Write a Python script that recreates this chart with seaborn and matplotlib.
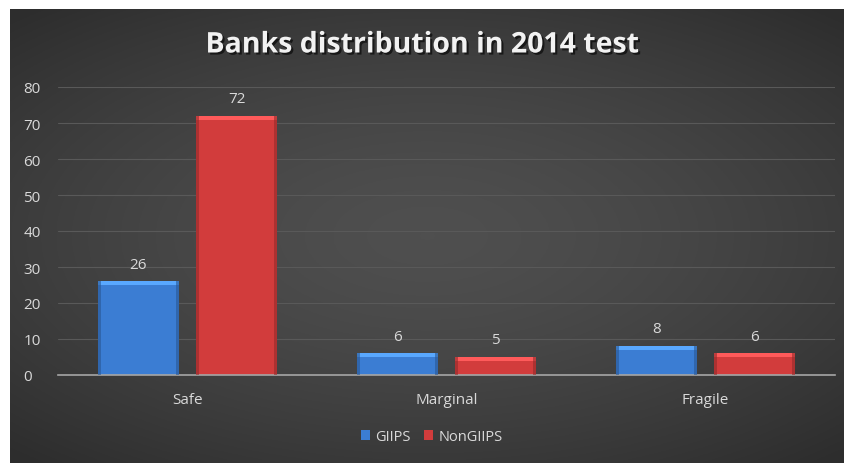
import numpy as np
import pandas as pd
import matplotlib
matplotlib.use("Agg")
import matplotlib.pyplot as plt
import matplotlib.patheffects as pe
import seaborn as sns

categories = ["Safe", "Marginal", "Fragile"]
giips = [26, 6, 8]
nongiips = [72, 5, 6]
series_names = ["GIIPS", "NonGIIPS"]
title = "Banks distribution in 2014 test"

df = pd.DataFrame({
    "Category": categories * 2,
    "Value": giips + nongiips,
    "Series": [series_names[0]] * 3 + [series_names[1]] * 3,
})

sns.set_theme(style="dark")
plt.rcParams['font.family'] = ['Open Sans', 'DejaVu Sans']

W, H = 845, 464
fig = plt.figure(figsize=(W / 100, H / 100), dpi=100, facecolor="white")

# background panel with radial gradient
bg = fig.add_axes([10 / W, 0, 1 - 10 / W, 1 - 10 / H])
yy, xx = np.mgrid[-1:1:300j, -1:1:500j]
r = np.sqrt((xx * 0.9) ** 2 + (yy * 1.0) ** 2)
vals = 0.31 - 0.13 * np.clip(r / 1.3, 0, 1) ** 1.5
rgb = np.dstack([vals, vals, vals])
bg.imshow(rgb, aspect="auto", extent=[0, 1, 0, 1])
bg.set_axis_off()

ax = fig.add_axes([58 / W, 88 / H, (835 - 58) / W, (376 - 88) / H])
ax.patch.set_alpha(0)
palette = {"GIIPS": "#3b7dd3", "NonGIIPS": "#d23c3c"}
sns.barplot(data=df, x="Category", y="Value", hue="Series", palette=palette,
            width=0.757, gap=0.18, saturation=1, ax=ax, legend=True,
            edgecolor="none")

ax.set_ylim(0, 80)
ax.set_xlim(-0.5, 2.5)
ax.set_yticks(range(0, 81, 10))
ax.grid(axis="y", color="#595959", linewidth=0.8)
ax.grid(axis="x", visible=False)
ax.set_axisbelow(True)
for s in ["top", "right", "left"]:
    ax.spines[s].set_visible(False)
ax.spines["bottom"].set_color("#a6a6a6")
ax.spines["bottom"].set_linewidth(1.2)
ax.set_xlabel("")
ax.set_ylabel("")
ax.tick_params(axis="y", colors="#d9d9d9", labelsize=11, length=0, pad=25)
ax.tick_params(axis="x", colors="#d9d9d9", labelsize=11, length=0, pad=12)
for lab in ax.get_yticklabels():
    lab.set_horizontalalignment("left")

# bevel highlights and labels
hpx = 80 / 288.0  # data units per px
for container in ax.containers:
    for bar in container:
        x0, w, h = bar.get_x(), bar.get_width(), bar.get_height()
        c = bar.get_facecolor()
        light = tuple(min(1, v * 1.2 + 0.07) for v in c[:3])
        dark = tuple(v * 0.7 for v in c[:3])
        ax.add_patch(plt.Rectangle((x0, h - 4 * hpx), w, 4 * hpx, color=light, zorder=3, lw=0))
        ax.add_patch(plt.Rectangle((x0, 0), w * 0.03, h, color=dark, zorder=3, lw=0, alpha=0.6))
        ax.add_patch(plt.Rectangle((x0 + w * 0.97, 0), w * 0.03, h, color=dark, zorder=3, lw=0, alpha=0.6))
    ax.bar_label(container, padding=7, color="#d9d9d9", fontsize=11)

leg = ax.legend(loc="center", bbox_to_anchor=(0.481, -0.215), ncol=2, frameon=False,
                fontsize=10.5, handlelength=0.65, handleheight=0.65, handletextpad=0.35,
                columnspacing=0.9)
for t in leg.get_texts():
    t.set_color("#d9d9d9")

fig.text(0.5, 1 - 46 / H, title, ha="center", va="center", fontsize=20.5,
         fontweight="bold", color="#f2f2f2",
         path_effects=[pe.withSimplePatchShadow(offset=(1.5, -1.5), shadow_rgbFace="black", alpha=0.6)])

fig.savefig("out.png", dpi=100, facecolor="white")
